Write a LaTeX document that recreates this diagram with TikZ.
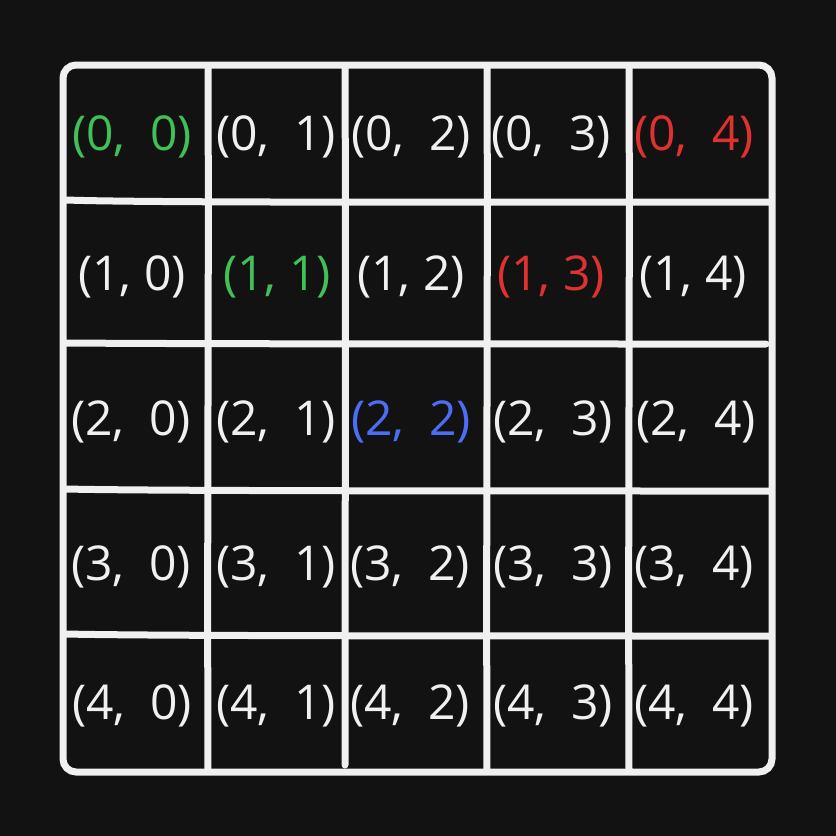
\documentclass[tikz,border=0pt]{standalone}
\usepackage{fontspec}
\setmainfont{Open Sans}
\definecolor{bg}{HTML}{121212}
\definecolor{ln}{HTML}{F0F0F0}
\definecolor{tw}{HTML}{F0F0F0}
\definecolor{tg}{HTML}{40C057}
\definecolor{tr}{HTML}{E03131}
\definecolor{tb}{HTML}{4C6EF5}
\begin{document}
\begin{tikzpicture}[x=1pt,y=-1pt,
  gridline/.style={draw=ln,line width=7pt,line cap=round},
  cell/.style={inner sep=0pt,text=tw,font=\fontsize{48}{57}\selectfont},
  ]
\useasboundingbox[fill=bg] (0,0) rectangle (836,836);
% outer frame
\draw[gridline,rounded corners=13pt] (63,65) rectangle (772,772);
% vertical lines
\draw[gridline] (208,68) .. controls (209,300) and (207,500) .. (208,770);
\draw[gridline] (345,68) .. controls (346,300) and (345,500) .. (345,765);
\draw[gridline] (487,68) .. controls (488,300) and (486,500) .. (487,770);
\draw[gridline] (629,68) .. controls (630,300) and (628,500) .. (629,770);
% horizontal lines
\draw[gridline] (66,200) .. controls (150,203) and (500,202) .. (770,202);
\draw[gridline] (66,343) .. controls (200,344) and (500,344) .. (766,344);
\draw[gridline] (66,489) .. controls (150,491) and (500,491) .. (770,491);
\draw[gridline] (66,634) .. controls (150,636) and (500,636) .. (770,636);
% texts
\node[cell,text=tg] (c00) at (132,137) {(0,\ \ 0)};
\node[cell] (c01) at (276,137) {(0,\ \ 1)};
\node[cell] (c02) at (411,137) {(0,\ \ 2)};
\node[cell] (c03) at (551,137) {(0,\ \ 3)};
\node[cell,text=tr] (c04) at (694,137) {(0,\ \ 4)};
\node[cell] (c10) at (132,277) {(1, 0)};
\node[cell,text=tg] (c11) at (277,277) {(1, 1)};
\node[cell] (c12) at (411,277) {(1, 2)};
\node[cell,text=tr] (c13) at (551,277) {(1, 3)};
\node[cell] (c14) at (693,277) {(1, 4)};
\node[cell] (c20) at (131,422) {(2,\ \ 0)};
\node[cell] (c21) at (276,422) {(2,\ \ 1)};
\node[cell,text=tb] (c22) at (411,422) {(2,\ \ 2)};
\node[cell] (c23) at (553,422) {(2,\ \ 3)};
\node[cell] (c24) at (696,422) {(2,\ \ 4)};
\node[cell] (c30) at (131,567) {(3,\ \ 0)};
\node[cell] (c31) at (276,567) {(3,\ \ 1)};
\node[cell] (c32) at (410,567) {(3,\ \ 2)};
\node[cell] (c33) at (553,567) {(3,\ \ 3)};
\node[cell] (c34) at (694,567) {(3,\ \ 4)};
\node[cell] (c40) at (132,706) {(4,\ \ 0)};
\node[cell] (c41) at (276,706) {(4,\ \ 1)};
\node[cell] (c42) at (410,706) {(4,\ \ 2)};
\node[cell] (c43) at (553,706) {(4,\ \ 3)};
\node[cell] (c44) at (694,706) {(4,\ \ 4)};
\end{tikzpicture}
\end{document}
